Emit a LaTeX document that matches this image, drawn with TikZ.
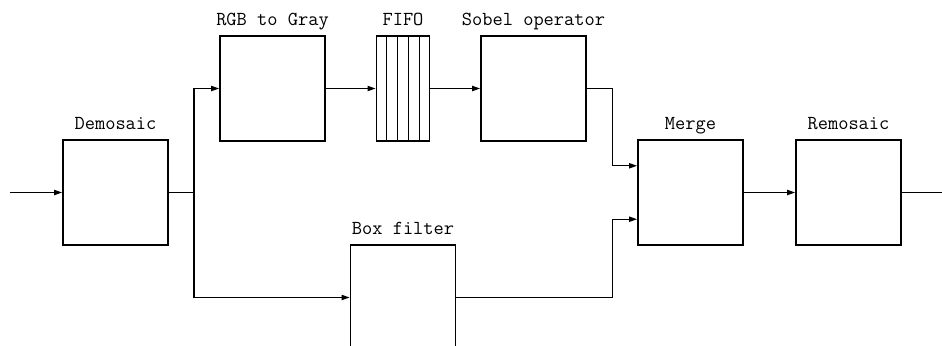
\documentclass[tikz,border=0pt]{standalone}
\usepackage{fontspec}
\usepackage{tikz}
\usetikzlibrary{arrows.meta, positioning, calc}

\begin{document}
\begin{tikzpicture}[x=0.02cm, y=-0.02cm,
    block/.style={draw, line width=1.1pt, minimum width=2.1cm, minimum height=2.1cm, inner sep=0pt},
    blocklabel/.style={label={[anchor=base, label distance=0.19cm, font=\ttfamily\fontsize{11.3}{13}\selectfont]above:#1}},
    conn/.style={line width=0.6pt, -{Triangle[length=4.5pt, width=3pt]}},
    wire/.style={line width=0.6pt}]
    \useasboundingbox (0,0) rectangle (942,345);
    \clip (0,0) rectangle (942,345);

    % Blöcke
    \node[block, blocklabel=Demosaic] (demosaic) at (115.5,192.5) {};
    \node[block, blocklabel=RGB to Gray] (rgb) at (272.5,88.5) {};
    \node[block, minimum width=1.06cm, blocklabel=FIFO] (fifo) at (403,88.5) {};
    \node[block, blocklabel=Sobel operator] (sobel) at (533.5,88.5) {};
    \node[block, blocklabel=Box filter] (boxf) at (403,297.5) {};
    \node[block, blocklabel=Merge] (merge) at (690.5,192.5) {};
    \node[block, blocklabel=Remosaic] (remosaic) at (848.5,192.5) {};

    % FIFO-Zellen
    \foreach \i in {1,...,4}
        \draw[line width=0.6pt] ($(fifo.north west)!\i/5!(fifo.north east)$) -- ($(fifo.south west)!\i/5!(fifo.south east)$);

    % Verbindungen
    \coordinate (in) at (10,192.5);
    \coordinate (out) at (942,192.5);
    \coordinate (split) at (194,192.5);
    \coordinate (mergeA) at ($(merge.north west)!0.25!(merge.south west)$);
    \coordinate (mergeB) at ($(merge.north west)!0.75!(merge.south west)$);

    \draw[conn] (in) -- (demosaic);
    \draw[wire] (demosaic.east) -- (split);
    \draw[conn] (split) |- (rgb.west);
    \draw[conn] (split) |- (boxf.west);
    \draw[conn] (rgb.east) -- (fifo.west);
    \draw[conn] (fifo.east) -- (sobel.west);
    \draw[conn] (sobel.east) -- ++(26,0) |- (mergeA);
    \draw[conn] (boxf.east) -- ++(156,0) |- (mergeB);
    \draw[conn] (merge) -- (remosaic);
    \draw[wire] (remosaic.east) -- (out);
\end{tikzpicture}
\end{document}
